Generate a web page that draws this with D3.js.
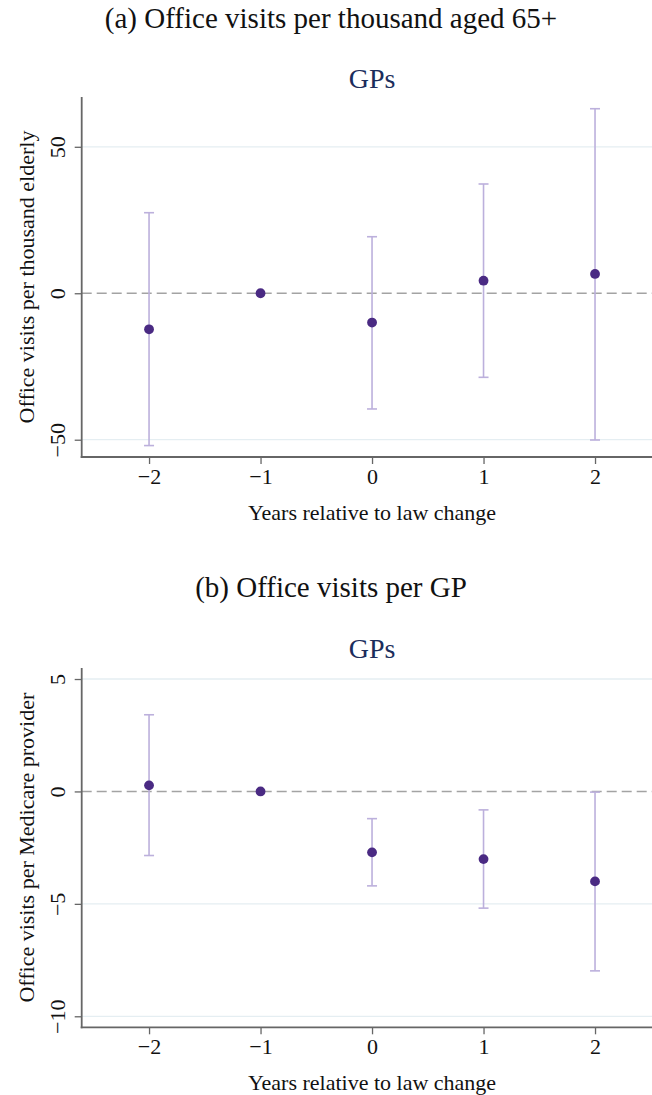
<!DOCTYPE html>
<html><head><meta charset="utf-8">
<script src="https://cdn.jsdelivr.net/npm/d3@7"></script>
<style>body{margin:0;background:#fff}svg{display:block}</style>
</head><body>
<svg id="c" width="652" height="1095"></svg>
<script>
const years = [-2, -1, 0, 1, 2];
const xTicks = [-2, -1, 0, 1, 2];

const panelATitle = "(a) Office visits per thousand aged 65+";
const panelAYLabel = "Office visits per thousand elderly";
const panelAEst = [-12.3, 0, -10.0, 4.3, 6.6];
const panelALo  = [-52.0, null, -39.5, -28.7, -50.1];
const panelAHi  = [27.5, null, 19.3, 37.3, 63.0];
const panelAYTicks = [-50, 0, 50];

const panelBTitle = "(b) Office visits per GP";
const panelBYLabel = "Office visits per Medicare provider";
const panelBEst = [0.27, 0, -2.71, -3.01, -4.0];
const panelBLo  = [-2.85, null, -4.2, -5.19, -7.98];
const panelBHi  = [3.41, null, -1.21, -0.82, -0.03];
const panelBYTicks = [-10, -5, 0, 5];

const subTitle = "GPs";
const xLabel = "Years relative to law change";

const svg = d3.select("#c");
const serif = "'Liberation Serif', 'Times New Roman', serif";
const W = 652, AX = 81.7;

function fmt(d) { return d < 0 ? "\u2212" + Math.abs(d) : String(d); }

function panel(o) {
  const x = d3.scaleLinear().domain([-2.604, 2.511]).range([AX, W]);
  const y = d3.scaleLinear().domain(o.yDomain).range([o.bottom, o.top]);
  const g = svg.append("g");

  g.append("text").attr("x", 331).attr("y", o.titleY).attr("text-anchor", "middle")
    .attr("font-family", serif).attr("font-size", 29).attr("fill", "#111").text(o.title);
  g.append("text").attr("x", x(0)).attr("y", o.subY).attr("text-anchor", "middle")
    .attr("font-family", serif).attr("font-size", 28).attr("fill", "#1c2d5c").text(subTitle);

  // gridlines
  g.selectAll(".grid").data(o.yTicks.filter(t => t !== 0)).join("line")
    .attr("x1", AX).attr("x2", W).attr("y1", d => y(d)).attr("y2", d => y(d))
    .attr("stroke", "#e5eef2").attr("stroke-width", 1.3);

  // zero dashed line
  g.append("line").attr("x1", AX).attr("x2", W).attr("y1", y(0)).attr("y2", y(0))
    .attr("stroke", "#a3a3a3").attr("stroke-width", 1.5).attr("stroke-dasharray", "10,5");

  // y axis
  const ya = d3.axisLeft(y).tickValues(o.yTicks).tickSize(7).tickFormat(fmt);
  const yg = g.append("g").attr("transform", `translate(${AX},0)`).call(ya);
  yg.select(".domain").attr("stroke", "#666").attr("stroke-width", 1.8).attr("d", `M0,${o.top}V${o.bottom + 1}`);
  yg.selectAll(".tick line").attr("stroke", "#666").attr("stroke-width", 1.3);
  yg.selectAll(".tick text").attr("font-family", serif).attr("font-size", 22).attr("fill", "#111")
    .attr("transform", "rotate(-90)").attr("x", 0).attr("y", -16.5).attr("dy", "0")
    .attr("text-anchor", "middle");

  // x axis
  const xa = d3.axisBottom(x).tickValues(xTicks).tickSize(7).tickFormat(fmt);
  const xg = g.append("g").attr("transform", `translate(0,${o.bottom})`).call(xa);
  xg.select(".domain").attr("stroke", "#666").attr("stroke-width", 1.8).attr("d", `M${AX - 1},0H${W}`);
  xg.selectAll(".tick line").attr("stroke", "#666").attr("stroke-width", 1.3);
  xg.selectAll(".tick text").attr("font-family", serif).attr("font-size", 22).attr("fill", "#111")
    .attr("y", 26.5).attr("dy", "0");

  // axis labels
  g.append("text").attr("transform", `translate(34,${(o.top + o.bottom) / 2}) rotate(-90)`)
    .attr("text-anchor", "middle").attr("font-family", serif).attr("font-size", 22).attr("fill", "#111")
    .text(o.yLabel);
  g.append("text").attr("x", x(0)).attr("y", o.bottom + 63).attr("text-anchor", "middle")
    .attr("font-family", serif).attr("font-size", 22).attr("fill", "#111").text(xLabel);

  const data = years.map((yr, i) => ({yr, est: o.est[i], lo: o.lo[i], hi: o.hi[i]}));
  const ci = data.filter(d => d.lo !== null);
  const ciColor = "#bcb0dc";
  g.selectAll(".ci").data(ci).join("line")
    .attr("x1", d => x(d.yr)).attr("x2", d => x(d.yr)).attr("y1", d => y(d.lo)).attr("y2", d => y(d.hi))
    .attr("stroke", ciColor).attr("stroke-width", 1.6);
  ["lo", "hi"].forEach(k => {
    g.selectAll(".cap" + k).data(ci).join("line")
      .attr("x1", d => x(d.yr) - 5).attr("x2", d => x(d.yr) + 5)
      .attr("y1", d => y(d[k])).attr("y2", d => y(d[k]))
      .attr("stroke", ciColor).attr("stroke-width", 1.6);
  });
  g.selectAll(".pt").data(data).join("circle")
    .attr("cx", d => x(d.yr)).attr("cy", d => y(d.est)).attr("r", 4.9)
    .attr("fill", "#4a2a83");
}

panel({title: panelATitle, titleY: 28, subY: 88, yLabel: panelAYLabel,
  est: panelAEst, lo: panelALo, hi: panelAHi, yTicks: panelAYTicks,
  yDomain: [-55.9, 67], top: 97, bottom: 457});
panel({title: panelBTitle, titleY: 597, subY: 658, yLabel: panelBYLabel,
  est: panelBEst, lo: panelBLo, hi: panelBHi, yTicks: panelBYTicks,
  yDomain: [-10.49, 5.49], top: 668, bottom: 1027.3});
</script>
</body></html>
